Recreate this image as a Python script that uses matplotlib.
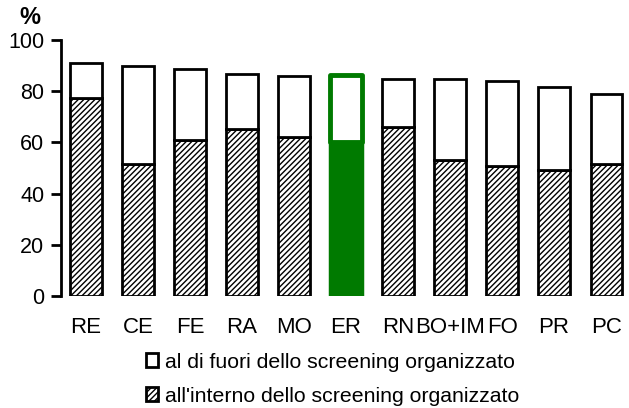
import matplotlib
matplotlib.use("Agg")
from matplotlib import pyplot as plt
from matplotlib.patches import Patch

plt.rcParams['font.family'] = ['Liberation Sans', 'DejaVu Sans']
plt.rcParams['hatch.linewidth'] = 1.0
plt.rcParams['hatch.color'] = '#444444'

aree = ['RE', 'CE', 'FE', 'RA', 'MO', 'ER', 'RN', 'BO+IM', 'FO', 'PR', 'PC']
interno = [77.5, 51.4, 60.9, 65.1, 62.2, 60.0, 66.0, 53.1, 50.9, 49.3, 51.4]
fuori = [13.4, 38.4, 27.9, 21.6, 23.9, 26.3, 18.6, 31.5, 33.0, 32.2, 27.5]
evidenza = 'ER'

fig = plt.figure(figsize=(6.29, 4.08), dpi=100)
ax = fig.add_axes([61 / 629, 112 / 408, 568 / 629, 256 / 408])

x = list(range(len(aree)))
for i, nome in enumerate(aree):
    if nome == evidenza:
        ax.bar(i, interno[i], width=0.6, color='#007a00', edgecolor='#007a00',
               linewidth=2.5, joinstyle='round')
        ax.bar(i, fuori[i], bottom=interno[i], width=0.6, color='white',
               edgecolor='#007a00', linewidth=3.5, joinstyle='round')
    else:
        ax.bar(i, interno[i], width=0.6, color='white', edgecolor='black',
               linewidth=2, hatch='//////')
        ax.bar(i, fuori[i], bottom=interno[i], width=0.6, color='white',
               edgecolor='black', linewidth=2)

ax.set_xlim(-0.48, 10.44)
ax.set_ylim(0, 100)
ax.set_yticks([0, 20, 40, 60, 80, 100])
ax.set_xticks(x)
ax.set_xticklabels(aree)
ax.tick_params(axis='x', length=0, pad=15, labelsize=16)
ax.tick_params(axis='y', length=7, width=2, pad=5, labelsize=15.5, direction='out')
for lato in ['top', 'right', 'bottom']:
    ax.spines[lato].set_visible(False)
ax.spines['left'].set_linewidth(2)

fig.text(30 / 629, 1 - 18 / 408, '%', fontsize=17, fontweight='bold',
         ha='center', va='center')

legenda = [Patch(facecolor='white', edgecolor='black', linewidth=2,
                 label='al di fuori dello screening organizzato'),
           Patch(facecolor='white', edgecolor='black', linewidth=2, hatch='//////',
                 label="all'interno dello screening organizzato")]
fig.legend(handles=legenda, loc='upper left', bbox_to_anchor=(135 / 629, 1 - 342 / 408),
           frameon=False, fontsize=15.3, handlelength=0.6, handleheight=0.6,
           handletextpad=0.3, labelspacing=0.7, borderpad=0)

fig.savefig('out.png', dpi=100)
